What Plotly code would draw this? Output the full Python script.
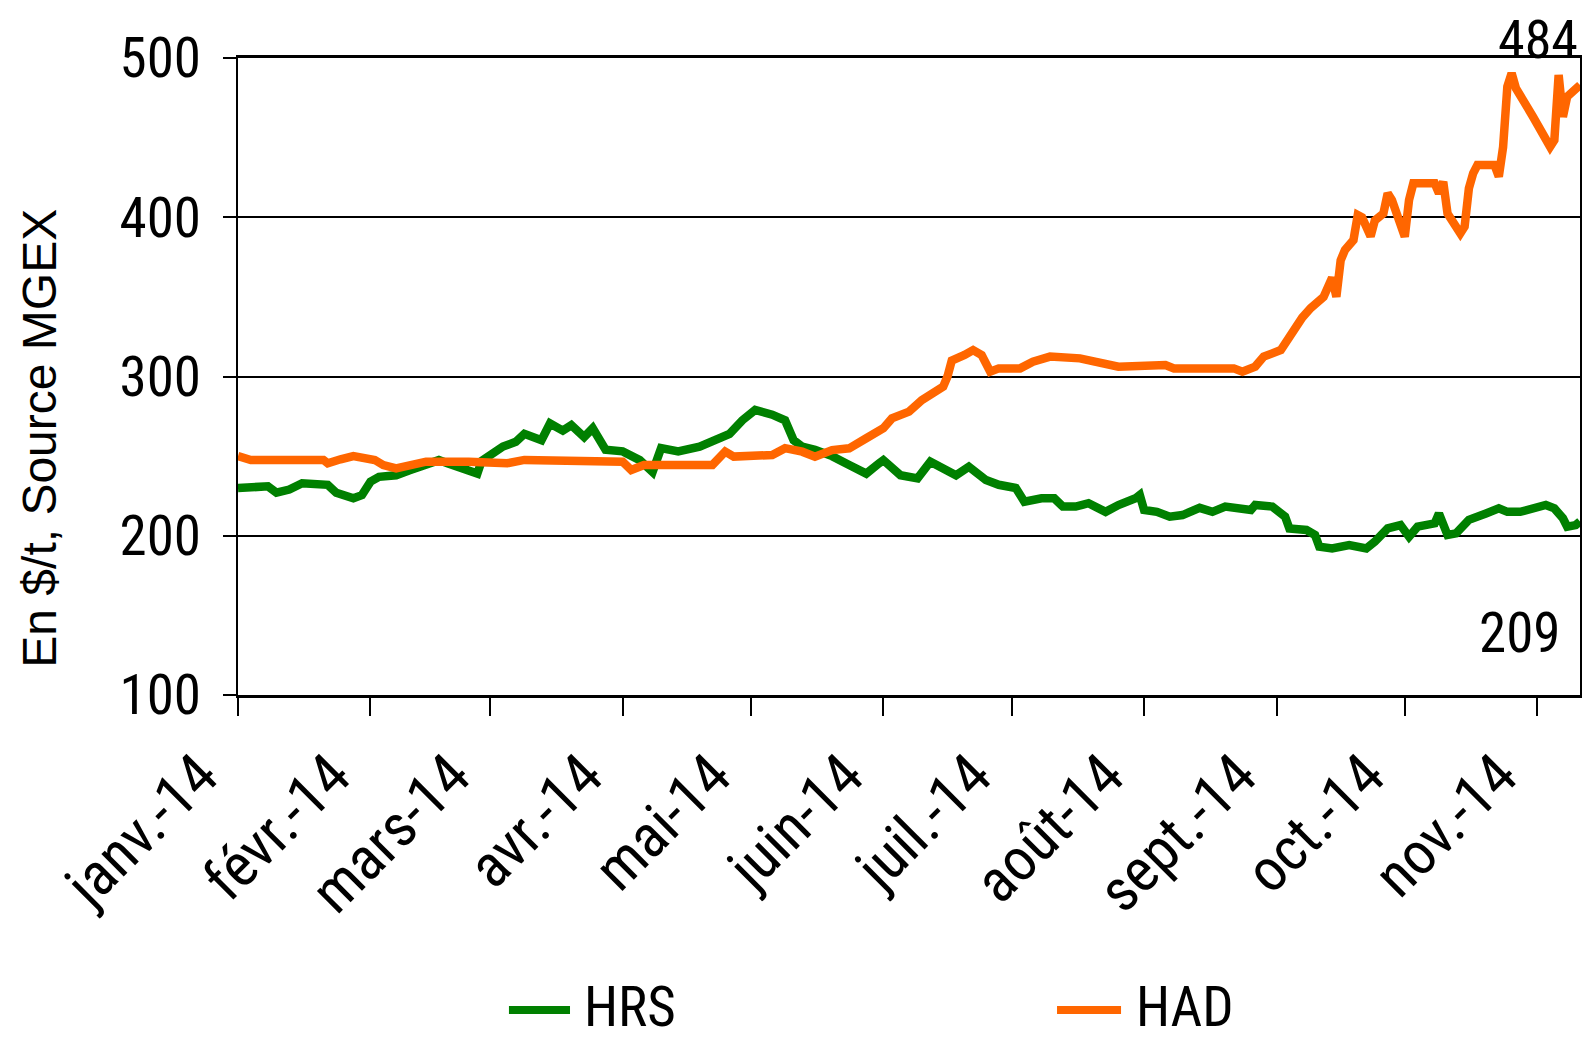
import datetime as dt
import plotly.graph_objects as go

# ---- data (day offset from 1 Jan 2014, value in $/t) ----
hrs_day = [0, 7, 9, 12, 15, 21, 23, 27, 29, 30, 31, 33, 37, 40, 43, 47, 49, 54, 56, 57,
           62, 65, 67, 71, 73, 76, 78, 81, 83, 86, 90, 94, 97, 99, 103, 108, 111, 115, 118, 121,
           125, 128, 130, 132, 135, 139, 143, 147, 150, 151, 155, 159, 162, 165, 168, 171, 175, 178, 182, 184,
           188, 191, 193, 196, 199, 203, 206, 210, 211, 212, 215, 218, 221, 225, 228, 231, 237, 238, 242, 245,
           246, 250, 252, 253, 256, 260, 264, 266, 269, 272, 274, 276, 280, 281, 282, 283, 285, 288, 292, 295,
           297, 300, 306, 308, 310, 311, 313, 314]
hrs_val = [230, 231, 227, 229, 233, 232, 227, 223.5, 225.5, 230, 234, 237, 238, 241, 244, 247.5, 245.5, 241, 239, 247,
           256, 259, 264, 260, 270.5, 266, 269.5, 262, 267.5, 254, 253, 247.5, 240, 255, 253, 256, 260, 264, 272.5, 279,
           276, 272.5, 260, 256, 254, 250, 244.4, 239, 245.5, 247.5, 238, 236, 246.5, 242.3, 238, 243.4, 235, 232, 230, 221.4,
           223.5, 223.5, 218.3, 218.3, 220.4, 215, 219.3, 223.5, 225.6, 216.2, 215, 212, 213, 217.5, 215, 218.3, 216.2, 219.3, 218.3, 212,
           204.6, 203.6, 200.5, 193.1, 192, 194.2, 192, 196.3, 204.6, 206.7, 199.4, 205.7, 207.8, 214, 207.8, 200.5, 201.5, 210, 214, 217.2,
           215, 215, 219.3, 217.2, 211, 205.7, 206.7, 209]

had_day = [0, 3, 20, 21, 24, 27, 32, 34, 37, 41, 44, 54, 63, 67, 81, 90, 92, 95, 99, 111,
           114, 116, 125, 128, 132, 135, 139, 143, 147, 151, 153, 157, 160, 163, 165, 166, 167, 170, 172, 174,
           176, 178, 183, 186, 190, 197, 202, 206, 217, 219, 233, 235, 238, 240, 244, 245, 247, 249, 251, 254,
           256, 257, 258, 259, 261, 262, 263, 265, 266, 268, 269, 270, 273, 274, 275, 280, 281, 282, 283, 286,
           287, 288, 289, 290, 294, 295, 296, 297, 298, 299, 303, 307, 308, 309, 310, 311, 314]
had_val = [250, 247.6, 247.6, 245.5, 248, 250, 247.6, 244.4, 242.3, 244.4, 246.5, 246.5, 245.5, 247.6, 247.6, 246.5, 241.3, 244.4, 244.4, 244.4,
           252.8, 249.7, 250.7, 255, 252.8, 249.7, 253.8, 254.9, 261.2, 267.5, 273.7, 277.9, 285.2, 290.5, 293.6, 300, 310, 313.5, 316.6, 313.5,
           303, 305.1, 305.1, 309.3, 312.5, 311.4, 308.3, 306.2, 307.2, 305.1, 305.1, 303, 306.2, 312.5, 316.6, 320.8, 329.2, 337, 343, 350,
           362, 350, 373, 379.4, 385.7, 401.4, 400, 388, 398, 402.4, 415, 410.8, 387.8, 410.8, 421.3, 421.3, 415, 422.3, 402.4, 389.9,
           394.1, 418.1, 427.6, 432.8, 432.8, 425.5, 444, 482, 490.4, 481, 463.1, 444.3, 448.5, 489.3, 463.1, 475.7, 483]

month_ticks = ["2014-01-01", "2014-02-01", "2014-03-01", "2014-04-01", "2014-05-01", "2014-06-01",
               "2014-07-01", "2014-08-01", "2014-09-01", "2014-10-01", "2014-11-01"]
month_labels = ["janv.-14", "févr.-14", "mars-14", "avr.-14", "mai-14", "juin-14",
                "juil.-14", "août-14", "sept.-14", "oct.-14", "nov.-14"]
y_ticks = [100, 200, 300, 400, 500]
series_names = ["HRS", "HAD"]
last_hrs_label = "209"
last_had_label = "484"

base = dt.date(2014, 1, 1)
hrs_x = [base + dt.timedelta(days=d) for d in hrs_day]
had_x = [base + dt.timedelta(days=d) for d in had_day]

NARROW = "Roboto Condensed, Liberation Sans Narrow, DejaVu Sans Condensed, sans-serif"
GREEN = "#008000"
ORANGE = "#FF6600"

fig = go.Figure()
fig.add_trace(go.Scatter(x=hrs_x, y=hrs_val, mode="lines", name=series_names[0],
                         line=dict(color=GREEN, width=8.5), showlegend=False))
fig.add_trace(go.Scatter(x=had_x, y=had_val, mode="lines", name=series_names[1],
                         line=dict(color=ORANGE, width=8.5), showlegend=False))

# the page body adds an 8px offset, so the figure is 8px smaller and margins shifted
fig.update_layout(
    width=1588, height=1034, autosize=False,
    margin=dict(l=230, r=16, t=50, b=347),
    plot_bgcolor="white", paper_bgcolor="white",
    font=dict(family=NARROW, color="black", size=54),
    showlegend=False,
)
fig.update_xaxes(
    type="date", range=["2014-01-01", "2014-11-11"],
    tickvals=month_ticks, ticktext=month_labels, tickangle=-45,
    ticks="outside", ticklen=18, tickwidth=2, tickcolor="black",
    showline=True, linecolor="black", linewidth=3, mirror=True,
    showgrid=False, zeroline=False, automargin=False,
    ticklabelshift=-38, ticklabelstandoff=0,
    tickfont=dict(family=NARROW, size=60, color="black"),
)
fig.update_yaxes(
    range=[100, 500], tickvals=y_ticks, ticktext=[str(v) for v in y_ticks],
    ticks="outside", ticklen=13, tickwidth=2, tickcolor="black",
    showline=True, linecolor="black", linewidth=2, mirror=True,
    showgrid=True, gridcolor="black", gridwidth=2, zeroline=False, automargin=False,
    ticklabelstandoff=11,
    tickfont=dict(family=NARROW, size=55, color="black"),
)

# legend drawn below the chart (long line keys like the original)
legend_line_y = -0.4945
legend_specs = [(series_names[0], GREEN, 0.2019, 0.2474, 0.2563),
                (series_names[1], ORANGE, 0.6103, 0.6580, 0.6677)]
for name, col, x0, x1, xt in legend_specs:
    fig.add_shape(type="line", xref="paper", yref="paper", x0=x0, x1=x1,
                  y0=legend_line_y, y1=legend_line_y, line=dict(color=col, width=8))
    fig.add_annotation(text=name, xref="paper", yref="paper", x=xt, y=-0.5430,
                       xanchor="left", yanchor="bottom", showarrow=False,
                       font=dict(family=NARROW, size=55, color="black"))

fig.add_annotation(text="En $/t, Source MGEX", textangle=-90, xref="paper", yref="paper",
                   x=-0.148, y=0.403, xanchor="center", yanchor="middle", showarrow=False,
                   font=dict(family="Liberation Sans, Arial, sans-serif", size=48, color="black"))
fig.add_annotation(text=last_had_label, xref="paper", yref="paper", x=1.0, y=1.0820,
                   xanchor="right", yanchor="top", showarrow=False,
                   font=dict(family=NARROW, size=54, color="black"))
fig.add_annotation(text=last_hrs_label, xref="paper", yref="paper", x=0.9866, y=0.0973,
                   xanchor="right", yanchor="middle", showarrow=False,
                   font=dict(family=NARROW, size=55, color="black"))

fig.write_html("out.html")
